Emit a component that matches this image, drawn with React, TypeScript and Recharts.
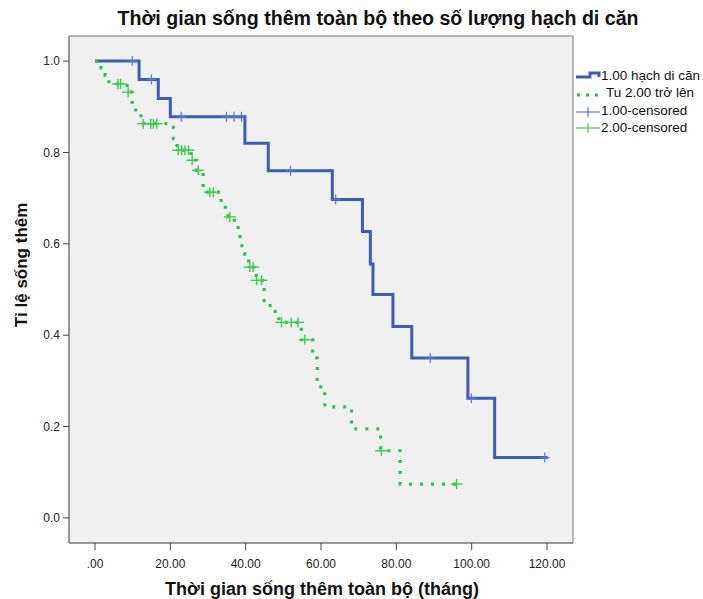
import React from "react";
import { ComposedChart, Line, Scatter, XAxis, YAxis, ReferenceArea } from "recharts";

// group 1: "1.00 hạch di căn" — step times (months) and survival
const g1Times = [0, 11.7, 16.8, 20.0, 39.8, 46.0, 63.0, 71.0, 73.1, 73.8, 79.1, 84.1, 99.0, 106.1, 120.2];
const g1Surv = [1.0, 0.96, 0.918, 0.878, 0.82, 0.76, 0.697, 0.627, 0.556, 0.489, 0.419, 0.35, 0.262, 0.132, 0.132];
const g1Censored = [9.9, 15.0, 22.9, 34.9, 36.9, 38.9, 51.9, 63.9, 89.0, 99.9, 119.4];

// group 2: "Tu 2.00 trở lên"
const g2Times = [
  0, 1.6, 2.7, 3.7, 8.5, 9.8, 10.8, 12.2, 20.8, 21.8, 25.5, 27.0, 28.7, 33.5, 34.6, 35.3,
  37.0, 38.0, 38.5, 39.0, 39.8, 40.8, 42.8, 44.9, 47.0, 48.8, 54.8, 57.8, 59.0, 61.0,
  68.1, 75.8, 81.0, 96.8,
];
const g2Surv = [
  1.0, 0.985, 0.968, 0.95, 0.932, 0.91, 0.887, 0.863, 0.83, 0.805, 0.783, 0.761, 0.713, 0.69, 0.672, 0.659,
  0.64, 0.624, 0.6, 0.585, 0.577, 0.549, 0.52, 0.465, 0.452, 0.428, 0.39, 0.35, 0.287, 0.243,
  0.195, 0.147, 0.074, 0.074,
];
const g2Censored = [
  6.1, 6.8, 8.8, 12.8, 14.8, 15.5, 16.4, 22.1, 23.0, 23.9, 24.8, 25.8, 27.4, 30.5, 31.4, 35.8,
  41.1, 42.0, 42.9, 44.2, 49.5, 52.1, 53.9, 55.7, 76.0, 96.0,
];

const xTicks = [0, 20, 40, 60, 80, 100, 120];
const yTicks = [0, 0.2, 0.4, 0.6, 0.8, 1.0];

const BLUE = "#3f5bb5";
const GREEN = "#2fbf4c";
const BLUE_C = "#5676d6";
const GREEN_C = "#3ccc4f";
const FONT = "'Liberation Sans', Arial, sans-serif";

const steps = (times: number[], surv: number[]) => times.map((t, i) => ({ t, s: surv[i] }));
const survAt = (times: number[], surv: number[], t: number) => {
  let s = surv[0];
  for (let i = 0; i < times.length; i++) if (times[i] <= t) s = surv[i];
  return s;
};
const censorPts = (times: number[], surv: number[], cens: number[]) =>
  cens.map((t) => ({ t, s: survAt(times, surv, t) }));

const BlueCross = (p: any) => (
  <g stroke={BLUE_C} strokeWidth={1.2}>
    <line x1={p.cx} y1={p.cy - 5} x2={p.cx} y2={p.cy + 5} />
    <line x1={p.cx - 5} y1={p.cy} x2={p.cx + 5} y2={p.cy} />
  </g>
);
const GreenCross = (p: any) => (
  <g stroke={GREEN_C} strokeWidth={1.4}>
    <line x1={p.cx} y1={p.cy - 5} x2={p.cx} y2={p.cy + 5} />
    <line x1={p.cx - 6} y1={p.cy} x2={p.cx + 6} y2={p.cy} />
  </g>
);

export default function App() {
  const tickStyle = { fontSize: 12, fill: "#222", fontFamily: FONT };
  return (
    <div style={{ position: "fixed", top: 0, left: 0, width: 703, height: 599, background: "#fff", overflow: "hidden", fontFamily: FONT }}>
      <div style={{ position: "absolute", left: 378, top: 18, transform: "translate(-50%, -50%)", whiteSpace: "nowrap", fontSize: 19.6, fontWeight: "bold", color: "#111" }}>
        Thời gian sống thêm toàn bộ theo số lượng hạch di căn
      </div>
      <ComposedChart width={703} height={599} margin={{ top: 36, right: 130, bottom: 0, left: 0 }}>
        <ReferenceArea x1={-6.9} x2={126.9} y1={-0.055} y2={1.055} fill="#f0f0f0" fillOpacity={1} stroke="#777" />
        <XAxis
          type="number"
          dataKey="t"
          domain={[-6.9, 126.9]}
          ticks={xTicks}
          tickFormatter={(v: number) => (v === 0 ? ".00" : v.toFixed(2))}
          tick={tickStyle}
          tickSize={7}
          tickMargin={9}
          height={56}
          stroke="#444"
          axisLine={{ stroke: "#777" }}
          allowDataOverflow
        />
        <YAxis
          type="number"
          dataKey="s"
          domain={[-0.055, 1.055]}
          ticks={yTicks}
          tickFormatter={(v: number) => v.toFixed(1)}
          tick={tickStyle}
          tickSize={6}
          tickMargin={3}
          width={69}
          stroke="#444"
          axisLine={{ stroke: "#777" }}
          allowDataOverflow
        />
        <Line
          data={steps(g1Times, g1Surv)}
          dataKey="s"
          type="stepAfter"
          stroke={BLUE}
          strokeWidth={3}
          dot={false}
          isAnimationActive={false}
        />
        <Line
          data={steps(g2Times, g2Surv)}
          dataKey="s"
          type="stepAfter"
          stroke={GREEN}
          strokeWidth={3.2}
          strokeDasharray="3 8"
          dot={false}
          isAnimationActive={false}
        />
        <Scatter data={censorPts(g1Times, g1Surv, g1Censored)} dataKey="s" shape={BlueCross} isAnimationActive={false} />
        <Scatter data={censorPts(g2Times, g2Surv, g2Censored)} dataKey="s" shape={GreenCross} isAnimationActive={false} />
      </ComposedChart>
      <div style={{ position: "absolute", left: 22, top: 265, transform: "translate(-50%, -50%) rotate(-90deg)", whiteSpace: "nowrap", fontSize: 17, fontWeight: "bold", color: "#111" }}>
        Tỉ lệ sống thêm
      </div>
      <div style={{ position: "absolute", left: 322, top: 589, transform: "translate(-50%, -50%)", whiteSpace: "nowrap", fontSize: 18, fontWeight: "bold", color: "#111" }}>
        Thời gian sống thêm toàn bộ (tháng)
      </div>
      <svg style={{ position: "absolute", left: 574, top: 66 }} width={30} height={72}>
        <path d="M2,11 H16 V7 H25 V11" stroke={BLUE} strokeWidth={3} fill="none" />
        <line x1={3} y1={29} x2={27} y2={29} stroke={GREEN} strokeWidth={3} strokeDasharray="3 6" />
        <line x1={2} y1={46} x2={26} y2={46} stroke={BLUE_C} strokeWidth={1.2} />
        <line x1={14} y1={41} x2={14} y2={51} stroke={BLUE_C} strokeWidth={1.2} />
        <line x1={2} y1={62} x2={26} y2={62} stroke={GREEN_C} strokeWidth={1.2} />
        <line x1={14} y1={57} x2={14} y2={67} stroke={GREEN_C} strokeWidth={1.2} />
      </svg>
      <div style={{ position: "absolute", left: 601, top: 67, fontSize: 13.5, lineHeight: "17.3px", color: "#111", whiteSpace: "nowrap" }}>
        <div>1.00 hạch di căn</div>
        <div style={{ marginLeft: 5 }}>Tu 2.00 trở lên</div>
        <div>1.00-censored</div>
        <div>2.00-censored</div>
      </div>
    </div>
  );
}
